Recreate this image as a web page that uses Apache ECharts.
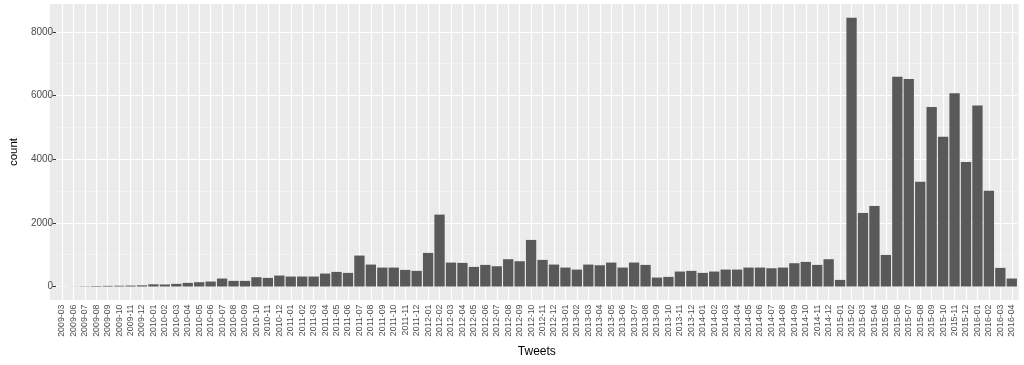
<!DOCTYPE html>
<html><head><meta charset="utf-8">
<script src="https://cdn.jsdelivr.net/npm/echarts@6/dist/echarts.min.js"></script>
<style>html,body{margin:0;padding:0;background:#fff}#c{width:1024px;height:365px}</style>
</head><body><div id="c"></div>
<script>
const categories = [
  "2009-03","2009-06","2009-07","2009-08","2009-09","2009-10","2009-11","2009-12",
  "2010-01","2010-02","2010-03","2010-04","2010-05","2010-06","2010-07","2010-08","2010-09","2010-10","2010-11","2010-12",
  "2011-01","2011-02","2011-03","2011-04","2011-05","2011-06","2011-07","2011-08","2011-09","2011-10","2011-11","2011-12",
  "2012-01","2012-02","2012-03","2012-04","2012-05","2012-06","2012-07","2012-08","2012-09","2012-10","2012-11","2012-12",
  "2013-01","2013-02","2013-03","2013-04","2013-05","2013-06","2013-07","2013-08","2013-09","2013-10","2013-11","2013-12",
  "2014-01","2014-02","2014-03","2014-04","2014-05","2014-06","2014-07","2014-08","2014-09","2014-10","2014-11","2014-12",
  "2015-01","2015-02","2015-03","2015-04","2015-05","2015-06","2015-07","2015-08","2015-09","2015-10","2015-11","2015-12",
  "2016-01","2016-02","2016-03","2016-04"
];
const counts = [
  2,5,10,18,22,25,30,38,
  70,65,84,115,136,157,251,178,178,293,272,345,
  314,314,314,408,460,429,973,690,596,596,523,492,
  1056,2259,753,743,617,680,638,858,795,1464,837,690,
  596,533,690,669,753,596,753,680,282,303,471,492,
  429,471,533,533,596,596,575,596,732,774,680,858,
  209,8440,2311,2531,994,6589,6515,3294,5637,4706,6066,3911,
  5689,3012,586,251
];
const yMajor = [0,2000,4000,6000,8000];
const yMinor = [1000,3000,5000,7000];
const yMin = -422.5, yMax = 8872.5;

const chart = echarts.init(document.getElementById('c'), null, {renderer:'canvas'});
const font = 'Liberation Sans, Arial, Helvetica, sans-serif';
chart.setOption({
  animation: false,
  textStyle: {fontFamily: font},
  graphic: [{type:'rect', z:-10, shape:{x:49.8, y:4, width:968.8, height:296}, style:{fill:'#EBEBEB'}, silent:true}],
  grid: {left:51, right:6.5, top:4, bottom:65, containLabel:false},
  xAxis: {
    type:'category', data: categories,
    name:'Tweets', nameLocation:'middle', nameGap:46,
    nameTextStyle:{color:'#000', fontSize:12, fontFamily:font},
    axisLine:{show:false},
    axisTick:{show:true, alignWithLabel:true, length:3.5, lineStyle:{color:'#333', width:1}},
    axisLabel:{rotate:90, interval:0, fontSize:8.8, margin:4.5, color:'#4D4D4D', fontFamily:font},
    splitLine:{show:false}
  },
  yAxis: {
    type:'value', min:yMin, max:yMax,
    name:'count', nameLocation:'middle', nameGap:33,
    nameTextStyle:{color:'#000', fontSize:11.5, fontFamily:font},
    axisLine:{show:false},
    axisTick:{show:true, length:3.5, lineStyle:{color:'#333', width:1}, customValues: yMajor},
    axisLabel:{fontSize:10, margin:3, color:'#4D4D4D', fontFamily:font, customValues: yMajor,
      formatter: v => String(Math.round(v))},
    splitLine:{show:false}
  },
  series: [
    {
      type:'line', data:[], z:1, silent:true,
      markLine:{
        silent:true, z:1, symbol:['none','none'], label:{show:false},
        lineStyle:{color:'#FFFFFF', type:'solid'},
        data: [
          ...yMinor.map(v => ({yAxis:v, lineStyle:{width:0.6, color:'#F7F7F7', type:'solid'}})),
          ...yMajor.map(v => ({yAxis:v, lineStyle:{width:1.2, color:'#FFFFFF', type:'solid'}})),
          ...categories.map(c => ({xAxis:c, lineStyle:{width:1.2, color:'#FFFFFF', type:'solid'}}))
        ]
      }
    },
    {
      type:'bar', data: counts, z:3, barCategoryGap:'10%',
      itemStyle:{color:'#595959'}
    }
  ]
});
</script></body></html>
